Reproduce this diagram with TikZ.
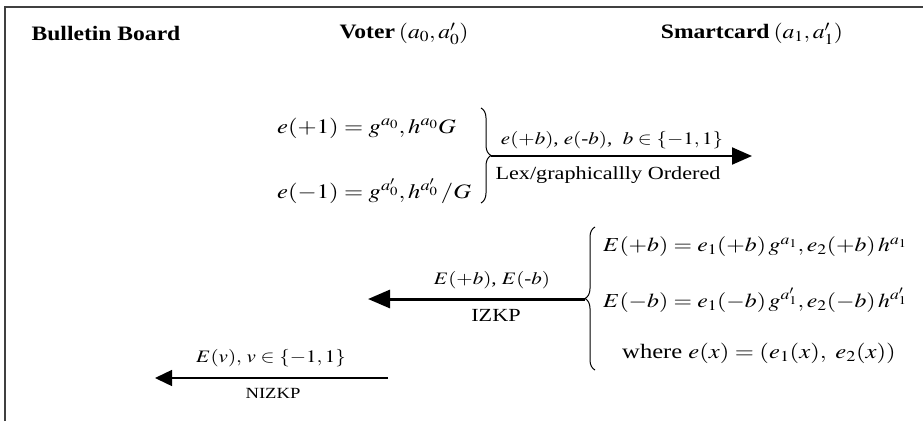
\documentclass[tikz,border=0pt]{standalone}
\usepackage{mathptmx}
\usepackage[no-math]{fontspec}
\setmainfont{Liberation Serif}
\usetikzlibrary{arrows.meta,decorations.pathreplacing}
\tikzset{
  txt/.style={inner sep=0pt, font=\fontsize{20.5}{24}\selectfont, xscale=1.2, transform shape},
  txtb/.style={inner sep=0pt, font=\fontsize{19.8}{24}\selectfont, xscale=1.2, transform shape},
  lbl/.style={inner sep=0pt, font=\fontsize{17.5}{21}\selectfont, xscale=1.2, transform shape},
  head/.style={inner sep=0pt, font=\fontsize{20.5}{24}\selectfont, xscale=1.15, transform shape},
  small/.style={inner sep=0pt, font=\fontsize{18.5}{21}\selectfont, xscale=1.2, transform shape},
  tiny/.style={inner sep=0pt, font=\fontsize{15.5}{18}\selectfont, xscale=1.2, transform shape},
  bracestyle/.style={decorate, line width=1pt},
  frame/.style={line width=1.2pt, draw=black!75},
}
\begin{document}
\begin{tikzpicture}[x=1pt,y=1pt]
\useasboundingbox (0,0) rectangle (923,-421);
\fill[white] (0,0) rectangle (923,-421);
\draw[frame] (5,-421) -- (5,-7) -- (923,-7);

% headers
\node[head] (bb) at (106,-34) {\textbf{Bulletin Board}};
\node[head] (voter) at (404,-34) {\textbf{Voter}\,$(a_0,a'_0)$};
\node[head] (card) at (752,-34) {\textbf{Smartcard}\,$(a_1,a'_1)$};

% block 1
\node[txt, anchor=west] (ep) at (277,-128) {$e(+1)=g^{a_0},h^{a_0}G$};
\node[txt, anchor=west] (em) at (277,-191) {$e(-1)=g^{a'_0},h^{a'_0}\,/G$};
\draw[bracestyle, decoration={brace, amplitude=10pt}] (481,-108) -- (481,-203);
\coordinate (b1tip) at (491,-156);
\coordinate (a1end) at (752,-156);
\draw[line width=2pt, -{Triangle[length=20pt,width=17pt]}] (b1tip) -- (a1end);
\node[lbl] (l1a) at (612,-140) {$e(+b)$, $e(\textrm{-}b)$, \ $b\in\{-1,1\}$};
\node[small] (l1b) at (608,-175) {Lex/graphicallly Ordered};

% block 2
\node[txtb, anchor=west] (Ep) at (603,-247) {$E(+b)=e_1(+b)\,g^{a_1},e_2(+b)\,h^{a_1}$};
\node[txtb, anchor=west] (Em) at (603,-300) {$E(-b)=e_1(-b)\,g^{a'_1},e_2(-b)\,h^{a'_1}$};
\node[txt, anchor=west] (wh) at (622,-353) {where $e(x)=(e_1(x),\ e_2(x))$};
\draw[bracestyle, decoration={brace, amplitude=10pt}] (595,-370) -- (595,-227);
\coordinate (b2tip) at (585,-299);
\coordinate (a2end) at (368,-299);
\draw[line width=3pt, -{Triangle[length=22pt,width=18pt]}] (b2tip) -- (a2end);
\node[lbl] (l2a) at (492,-280) {$E(+b)$, $E(\textrm{-}b)$};
\node[small] (l2b) at (496,-315) {IZKP};

% block 3
\coordinate (a3start) at (388,-378);
\coordinate (a3end) at (155,-378);
\draw[line width=1.4pt, -{Triangle[length=17pt,width=16pt]}] (a3start) -- (a3end);
\node[lbl] (l3a) at (271,-358) {$E(v),\,v\in\{-1,1\}$};
\node[tiny] (l3b) at (273,-393) {NIZKP};
\end{tikzpicture}
\end{document}
